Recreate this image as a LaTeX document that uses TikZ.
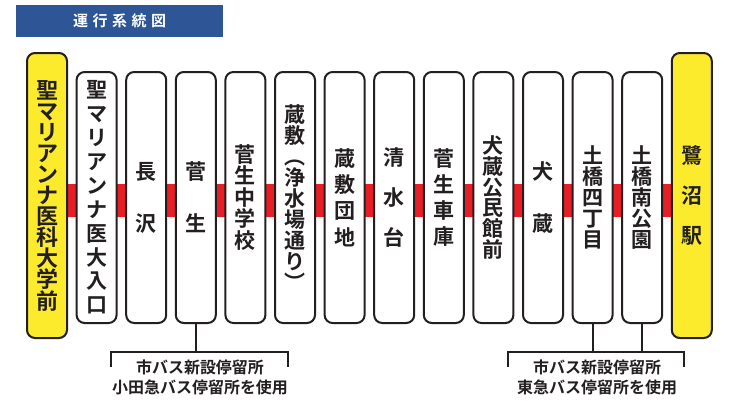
\documentclass[tikz,border=0pt]{standalone}
\usepackage{fontspec}
\setmainfont{Noto Sans CJK JP}[BoldFont={Noto Sans CJK JP Bold}]
\usetikzlibrary{calc}
\definecolor{ink}{RGB}{35,31,32}
\definecolor{banner}{RGB}{46,85,150}
\definecolor{redband}{RGB}{232,30,38}
\definecolor{stopyellow}{RGB}{252,235,45}
\newcommand{\fs}[2]{\fontsize{#1}{#2}\selectfont}
\tikzset{
  stopbox/.style={draw=ink, line width=2pt, rounded corners=8pt, fill=white,
    minimum width=40pt, minimum height=251pt, inner sep=0pt, align=center,
    text=ink},
  termbox/.style={stopbox, fill=stopyellow, minimum height=285pt},
  lead/.style 2 args={font=\bfseries\fs{#1}{#2}},
  bracket/.style={draw=ink, line width=2pt},
  note/.style={align=center, text=ink, inner sep=0pt,
    font=\bfseries\fs{16}{20}},
}
\begin{document}
\begin{tikzpicture}[x=1pt,y=-1pt]
\useasboundingbox (0,0) rectangle (729,400);
% title banner
\node[fill=banner, minimum width=207pt, minimum height=32pt, inner sep=0pt,
  text=white, font=\bfseries\fs{15}{15}] (title) at (119.5,21)
  {運\hspace{4.5pt}行\hspace{4.5pt}系\hspace{4.5pt}統\hspace{4.5pt}図};
% red band (drawn first, boxes on top)
\coordinate (rbL) at (47,184);
\coordinate (rbR) at (692,217);
\fill[redband] (rbL) rectangle (rbR);
% stops
\node[termbox, lead={22}{21.1}] (b0) at (47,195.5) {聖\\マ\\リ\\ア\\ン\\ナ\\医\\科\\大\\学\\前};
\node[stopbox, lead={21}{23.9}] (b1) at (96.6,197.5) {聖\\マ\\リ\\ア\\ン\\ナ\\医\\大\\入\\口};
\node[stopbox, lead={21}{52}] (b2) at (146.2,197.5) {長\\沢};
\node[stopbox, lead={21}{52}] (b3) at (195.8,197.5) {菅\\生};
\node[stopbox, lead={21}{21.5}] (b4) at (245.4,197.5) {菅\\生\\中\\学\\校};
\node[stopbox, lead={21}{21}] (b5) at (295,197.5) {蔵\\敷\\︵\\浄\\水\\場\\通\\り\\︶};
\node[stopbox, lead={21}{26.3}] (b6) at (344.6,197.5) {蔵\\敷\\団\\地};
\node[stopbox, lead={21}{40}] (b7) at (394.2,197.5) {清\\水\\台};
\node[stopbox, lead={21}{26.3}] (b8) at (443.8,197.5) {菅\\生\\車\\庫};
\node[stopbox, lead={21}{20.8}] (b9) at (493.4,197.5) {犬\\蔵\\公\\民\\館\\前};
\node[stopbox, lead={21}{52}] (b10) at (543,197.5) {犬\\蔵};
\node[stopbox, lead={21}{21}] (b11) at (592.6,197.5) {土\\橋\\四\\丁\\目};
\node[stopbox, lead={21}{21}] (b12) at (642.2,197.5) {土\\橋\\南\\公\\園};
\node[termbox, lead={21}{40}] (b13) at (691.8,195.5) {鷺\\沼\\駅};
% left bracket
\coordinate (la) at (111,367);
\coordinate (lb) at (111,352);
\coordinate (lc) at (288,352);
\coordinate (ld) at (288,367);
\draw[bracket] (la) -- (lb) -- (lc) -- (ld);
\draw[bracket] (b3.south) -- (b3.south |- lb);
\node[note] (n1) at (200,377) {市バス新設停留所\\小田急バス停留所を使用};
% right bracket
\coordinate (ra) at (508,367);
\coordinate (rb) at (508,352);
\coordinate (rc) at (684,352);
\coordinate (rd) at (684,367);
\draw[bracket] (ra) -- (rb) -- (rc) -- (rd);
\draw[bracket] (b11.south) -- (b11.south |- rb);
\draw[bracket] (b12.south) -- (b12.south |- rb);
\node[note] (n2) at (597,377) {市バス新設停留所\\東急バス停留所を使用};
\end{tikzpicture}
\end{document}
